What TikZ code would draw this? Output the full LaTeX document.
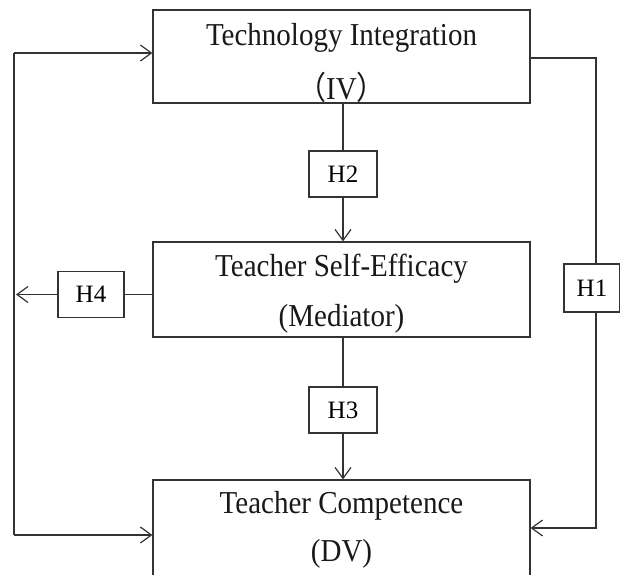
\documentclass[tikz,border=0pt]{standalone}
\usepackage{fontspec}
\setmainfont{Liberation Serif}
\newfontfamily\cjk{Noto Sans CJK SC}
\usetikzlibrary{arrows.meta,calc}
\begin{document}
\begin{tikzpicture}[x=1pt,y=-1pt,
  ln/.style={draw=black!80,line width=1.2pt},
  arr/.style={ln,-{Straight Barb[length=11pt,width=16pt,line width=1.2pt]}},
  bigbox/.style={ln,minimum width=377pt,inner sep=0pt},
  hbox/.style={ln,minimum width=68pt,minimum height=46pt,inner sep=0pt,font=\fontsize{25}{29}\selectfont},
  lbl/.style={font=\fontsize{29}{34}\selectfont,text=black!90,inner sep=0pt}]
\useasboundingbox (0,0) rectangle (620,574);
\fill[white] (0,0) rectangle (620,574);
% boxes
\node[bigbox,minimum height=93pt] (top) at (341.5,56.5) {};
\node[bigbox,minimum height=95pt] (mid) at (341.5,289.5) {};
\node[bigbox,minimum height=140pt] (bot) at (341.5,550) {};
% texts
\node[lbl] (t1) at (341.5,38) {\scalebox{1}[1.1]{Technology Integration}};
\node[lbl] (t2) at (341.5,87) {\scalebox{1}[1.1]{{\cjk （}IV{\cjk ）}}};
\node[lbl] (m1) at (341.5,269) {\scalebox{1}[1.1]{Teacher Self-Efficacy}};
\node[lbl] (m2) at (341.5,319) {\scalebox{1}[1.1]{(Mediator)}};
\node[lbl] (b1) at (341.5,506) {\scalebox{1}[1.1]{Teacher Competence}};
\node[lbl] (b2) at (341.5,554) {\scalebox{1}[1.1]{(DV)}};
% hypothesis boxes
\node[hbox] (h2) at (343,174) {H2};
\node[hbox] (h3) at (343,410) {H3};
\node[hbox,minimum width=66pt] (h4) at (91,294.5) {H4};
\node[hbox,minimum width=56pt,minimum height=48pt] (h1) at (592,288) {H1};
% coordinates
\coordinate (lt) at (14,53);
\coordinate (lb) at (14,535);
\coordinate (l4) at (16,294.5);
\coordinate (rt) at (596,58);
\coordinate (rb) at (596,528);
% connectors
\draw[ln] (top.south -| h2) -- (h2.north);
\draw[arr] (h2.south) -- (h2 |- mid.north);
\draw[ln] (mid.south -| h3) -- (h3.north);
\draw[arr] (h3.south) -- (h3 |- bot.north);
\draw[ln] (mid.west |- h4) -- (h4.east);
\draw[arr] (h4.west) -- (l4);
\draw[ln] (lt) -- (lb);
\draw[arr] (lt) -- (lt -| top.west);
\draw[arr] (lb) -- (lb -| bot.west);
\draw[ln] (rt -| top.east) -- (rt) -- (rt |- h1.north);
\draw[arr] (rt |- h1.south) -- (rb) -- (rb -| bot.east);
\end{tikzpicture}
\end{document}
